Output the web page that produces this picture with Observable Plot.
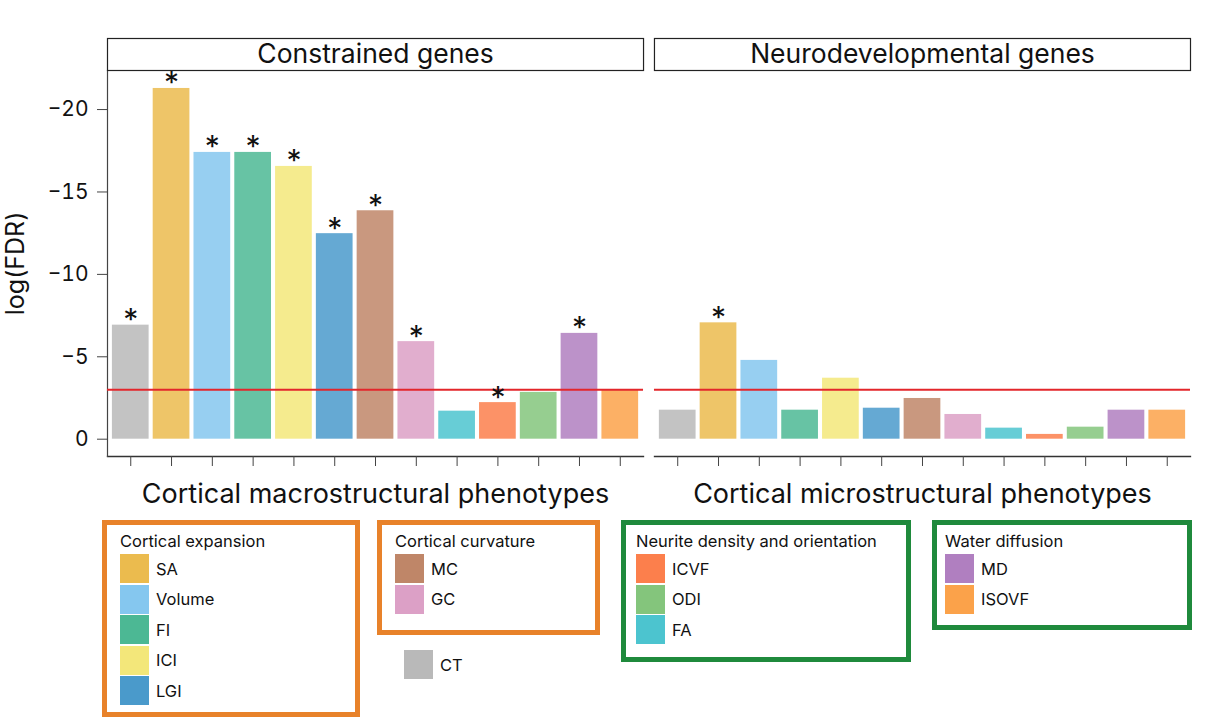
<!DOCTYPE html>
<html><head><meta charset="utf-8">
<script src="https://cdn.jsdelivr.net/npm/d3@7"></script>
<script src="https://cdn.jsdelivr.net/npm/@observablehq/plot@0.6"></script>
<style>
body{margin:0;background:#fff;font-family:Inter,"Liberation Sans",sans-serif;}
#wrap{position:relative;width:1214px;height:718px;overflow:hidden;background:#fff;}
#chart{position:absolute;left:0;top:0;}
.box{position:absolute;box-sizing:border-box;border:5px solid;background:#fff;padding:3px 0 0 12px;}
.title{font-size:16.5px;line-height:26px;color:#111;white-space:nowrap;}
.item{display:flex;align-items:center;height:29px;margin-bottom:1.5px;}
.sw{width:29px;height:29px;flex:none;}
.lab{margin-left:7px;font-size:16.5px;color:#111;}
</style></head>
<body><div id="wrap"><div id="chart"></div><div id="legend"></div></div>
<script>
const phenotypes = ["CT","SA","Volume","FI","ICI","LGI","MC","GC","FA","ICVF","ODI","MD","ISOVF"];
const geneSets = ["Constrained genes","Neurodevelopmental genes"];
const constrainedLogFDR = [-6.92,-21.28,-17.40,-17.40,-16.55,-12.47,-13.86,-5.92,-1.70,-2.22,-2.84,-6.42,-2.96];
const neuroLogFDR = [-1.76,-7.06,-4.78,-1.76,-3.70,-1.88,-2.47,-1.50,-0.67,-0.29,-0.73,-1.76,-1.76];
const constrainedSig = [1,1,1,1,1,1,1,1,0,1,0,1,0];
const neuroSig = [0,1,0,0,0,0,0,0,0,0,0,0,0];
const fdrThreshold = -3;
const phenotypeColors = ["#b9b9b9","#ebbb4e","#85c7ef","#4cb894","#f3e77a","#4a9acb","#bf8668","#dca0c6","#4cc4cf","#fc7f4c","#84c57c","#b07fc0","#fba24a"];
const axisTitles = ["Cortical macrostructural phenotypes","Cortical microstructural phenotypes"];
const yLabel = "log(FDR)";
const yTicks = [-20,-15,-10,-5,0];
const legendTitles = ["Cortical expansion","Cortical curvature","","Neurite density and orientation","Water diffusion"];
const legendItems = [["SA","Volume","FI","ICI","LGI"],["MC","GC"],["CT"],["ICVF","ODI","FA"],["MD","ISOVF"]];

const colorOf = p => phenotypeColors[phenotypes.indexOf(p)];
const data = [];
phenotypes.forEach((p,i)=>{
  data.push({set:geneSets[0], pheno:p, value:constrainedLogFDR[i], sig:constrainedSig[i]});
  data.push({set:geneSets[1], pheno:p, value:neuroLogFDR[i], sig:neuroSig[i]});
});
const W=1214, H=515, mT=70, mB=59, mL=107, mR=24;
const font = "Inter, 'Liberation Sans', sans-serif";
const plot = Plot.plot({
  width:W, height:H, marginTop:mT, marginBottom:mB, marginLeft:mL, marginRight:mR,
  style:{fontFamily:font, background:"#fff", color:"#111"},
  fx:{domain:geneSets, paddingInner:0.02, paddingOuter:0, round:false, axis:null, label:null},
  x:{domain:phenotypes, paddingInner:0.1, paddingOuter:0.12, round:false, axis:null},
  y:{domain:[1.05,-22.37], axis:null},
  color:{domain:phenotypes, range:phenotypeColors},
  marks:[
    Plot.frame({anchor:"bottom", stroke:"#333", strokeWidth:1.3}),
    Plot.frame({anchor:"left", facetAnchor:"left", stroke:"#444", strokeWidth:1.2}),
    Plot.frame({insetTop:-32, insetBottom:H-mT-mB, stroke:"#222", strokeWidth:1.2, fill:"white"}),
    Plot.text(geneSets, {fx:d=>d, text:d=>d, frameAnchor:"top", dy:-16, fontSize:26.5, lineAnchor:"middle", fill:"#111"}),
    Plot.barY(data, {fx:"set", x:"pheno", y:"value", fill:"pheno", fillOpacity:0.85}),
    Plot.ruleY([fdrThreshold], {stroke:"#e3262b", strokeWidth:2.2}),
    Plot.text(data.filter(d=>d.sig), {fx:"set", x:"pheno", y:"value", text:()=>"*", fontSize:30, lineAnchor:"bottom", dy:5, fill:"#111"}),
    Plot.axisX({tickFormat:()=>"", tickSize:10, label:null, stroke:"#444"}),
    Plot.axisY({ticks:yTicks, tickSize:10, tickPadding:9, tickFormat:d=>d < 0 ? "\u2212" + Math.abs(d) : String(d), fontSize:21, label:null, stroke:"#444"}),
    Plot.text([{set:geneSets[0]}], {fx:"set", text:()=>yLabel, frameAnchor:"left", textAnchor:"middle", rotate:-90, dx:-92, fontSize:25, lineAnchor:"middle", fill:"#111"}),
    Plot.text(geneSets.map((s,i)=>({set:s, t:axisTitles[i]})), {fx:"set", text:"t", frameAnchor:"bottom", dy:38, fontSize:27, lineAnchor:"middle", fill:"#111"})
  ]
});
document.getElementById("chart").appendChild(plot);

// legend boxes
const boxStyles = [
  {left:102, top:520, width:258, height:197, border:"#e8822a", pad:13},
  {left:377, top:520, width:223, height:115, border:"#e8822a", pad:13},
  {left:387, top:642, width:120, height:50, border:"transparent", pad:12},
  {left:621, top:520, width:290, height:142, border:"#1f8a3c", pad:10},
  {left:932, top:520, width:260, height:110, border:"#1f8a3c", pad:8}
];
const legend = d3.select("#legend");
legendItems.forEach((items,gi)=>{
  const s = boxStyles[gi];
  const box = legend.append("div").attr("class","box")
    .style("left",s.left+"px").style("top",s.top+"px").style("width",s.width+"px").style("height",s.height+"px")
    .style("border-color",s.border).style("padding-left",s.pad+"px");
  if (legendTitles[gi]) box.append("div").attr("class","title").text(legendTitles[gi]);
  items.forEach(p=>{
    const it = box.append("div").attr("class","item");
    it.append("div").attr("class","sw").style("background",colorOf(p));
    it.append("div").attr("class","lab").text(p);
  });
});
</script>
</body></html>
